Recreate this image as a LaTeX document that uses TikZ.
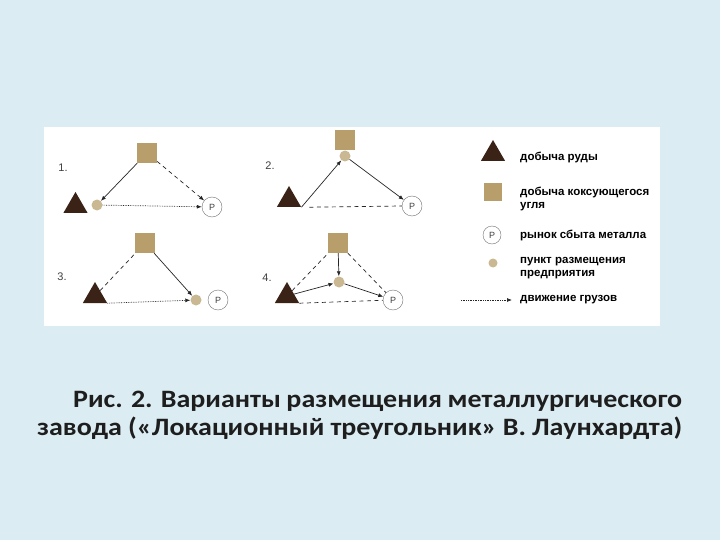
\documentclass[tikz,border=0pt]{standalone}
\usepackage{fontspec}
\setmainfont{Carlito}
\newfontfamily\legendfont{Liberation Sans}
\newfontfamily\capfont{Carlito}[FakeStretch=1.12]
\usetikzlibrary{arrows.meta, positioning, shapes.geometric}

\definecolor{slide}{RGB}{219,237,243}
\definecolor{orebrown}{RGB}{58,34,22}
\definecolor{coaltan}{RGB}{184,158,106}
\definecolor{plantbeige}{RGB}{202,184,146}
\definecolor{captext}{RGB}{30,30,30}

\begin{document}
\begin{tikzpicture}[>={Latex[length=5pt,width=4pt]}, x=1pt, y=-1pt,
  oremine/.style={regular polygon, regular polygon sides=3, minimum size=28pt, inner sep=0pt, fill=orebrown},
  coalmine/.style={rectangle, minimum size=20pt, inner sep=0pt, fill=coaltan},
  plantsite/.style={circle, minimum size=11pt, inner sep=0pt, fill=plantbeige},
  market/.style={circle, minimum size=20pt, inner sep=0pt, draw=black!55, fill=white, font=\legendfont\small, text=black!75},
  haul/.style={line width=0.7pt, black!85},
  solidhaul/.style={haul, ->},
  dashhaul/.style={haul, dash pattern=on 4pt off 3.5pt},
  dothaul/.style={haul, densely dotted},
  legendtext/.style={anchor=west, align=left, inner sep=0pt, font=\legendfont\bfseries\fontsize{11.5}{12.5}\selectfont},
  captionline/.style={anchor=base west, inner sep=0pt, text=captext, font=\capfont\bfseries\fontsize{25}{29}\selectfont}]

  \fill[slide] (0,0) rectangle (720,540);
  \fill[white] (44,127) rectangle (660,326);

  \foreach \n/\x/\y in {1/63/168, 2/270/166, 3/62/277, 4/267/278} {
    \node[font=\legendfont\fontsize{11}{12}\selectfont, text=black!75] (num\n) at (\x,\y) {\n.};
  }

  % 1.
  \node[oremine] (p1ore) at (75.5,206) {};
  \node[coalmine] (p1coal) at (147,153) {};
  \node[plantsite] (p1plant) at (97,205) {};
  \node[market] (p1mkt) at (212,207) {P};
  \draw[solidhaul] (p1coal) -- (p1plant);
  \draw[dashhaul, ->] (p1coal) -- (p1mkt);
  \draw[dothaul, ->] (p1plant) -- (p1mkt);

  % 2.
  \node[oremine] (p2ore) at (289,200) {};
  \node[coalmine] (p2coal) at (345,140) {};
  \node[plantsite] (p2plant) at (345,156) {};
  \node[market] (p2mkt) at (412,206) {P};
  \draw[solidhaul] (p2ore.corner 3) -- (p2plant);
  \draw[solidhaul] (p2plant) -- (p2mkt);
  \draw[dashhaul] (p2ore.corner 3) ++(8,0) -- (p2mkt.west);

  % 3.
  \node[oremine] (p3ore) at (95,296) {};
  \node[coalmine] (p3coal) at (145,243) {};
  \node[plantsite] (p3plant) at (196,300) {};
  \node[market] (p3mkt) at (218,300) {P};
  \draw[dashhaul] (p3ore) -- (p3coal);
  \draw[solidhaul] (p3coal) -- (p3plant);
  \draw[dothaul, ->] (p3ore.corner 3) -- (p3plant);

  % 4.
  \node[oremine] (p4ore) at (287,296) {};
  \node[coalmine] (p4coal) at (338,243) {};
  \node[plantsite] (p4plant) at (339,282) {};
  \node[market] (p4mkt) at (393,300) {P};
  \draw[dashhaul] (p4ore) -- (p4coal);
  \draw[dashhaul] (p4coal) -- (p4mkt);
  \draw[dashhaul] (p4ore.corner 3) -- (p4mkt);
  \draw[solidhaul] (p4coal) -- (p4plant);
  \draw[solidhaul] (p4ore) -- (p4plant);
  \draw[solidhaul] (p4plant) -- (p4mkt);

  % legend
  \node[oremine] (keyore) at (493,154) {};
  \node[coalmine, minimum size=18pt] (keycoal) at (493,192) {};
  \node[market, minimum size=18pt] (keymkt) at (492,235) {P};
  \node[plantsite, minimum size=9pt] (keyplant) at (493,263) {};
  \coordinate (keyfrom) at (461,300);
  \coordinate (keyto) at (512,300);
  \draw[dothaul, ->] (keyfrom) -- (keyto);

  \node[legendtext] (txtore) at (520,157) {добыча руды};
  \node[legendtext] (txtcoal) at (520,199) {добыча коксующегося\\угля};
  \node[legendtext] (txtmkt) at (520,235) {рынок сбыта металла};
  \node[legendtext] (txtplant) at (520,268) {пункт размещения\\предприятия};
  \node[legendtext] (txtmove) at (520,300) {движение грузов};

  \node[captionline] (cap1) at (73,407) {\makebox[609pt][s]{Рис. 2. Варианты размещения металлургического}};
  \node[captionline] (cap2) at (37,435) {\makebox[645pt][s]{завода («Локационный треугольник» В. Лаунхардта)}};

\end{tikzpicture}
\end{document}
